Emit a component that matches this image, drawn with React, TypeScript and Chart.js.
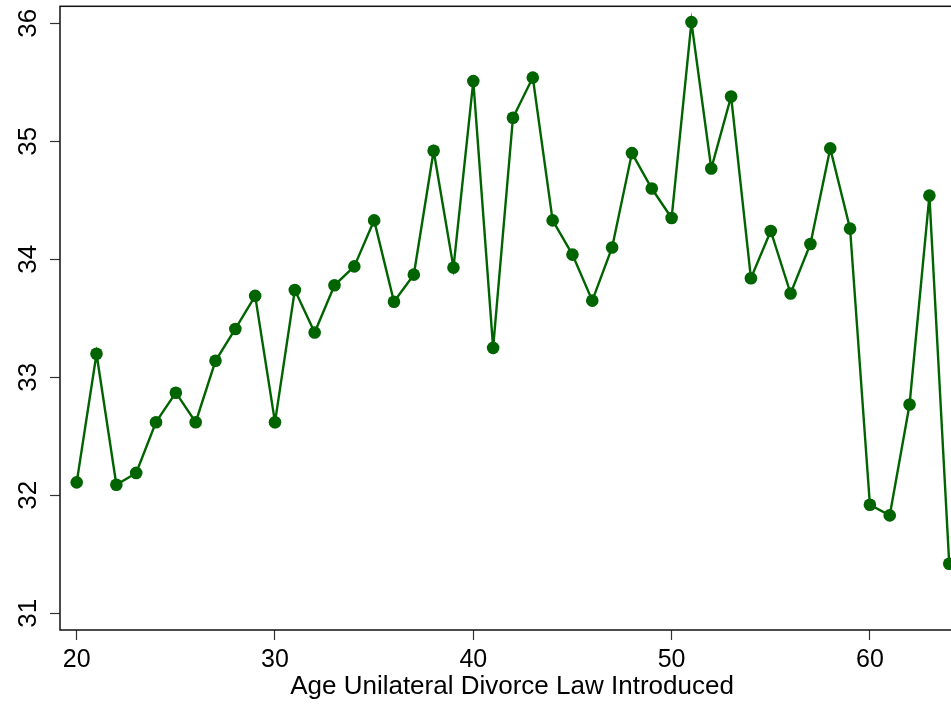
import React, { useEffect, useRef } from "react";
import { Chart, registerables } from "chart.js";

Chart.register(...registerables);

const ages = [20, 21, 22, 23, 24, 25, 26, 27, 28, 29, 30, 31, 32, 33, 34, 35, 36, 37, 38, 39, 40, 41, 42, 43, 44, 45, 46, 47, 48, 49, 50, 51, 52, 53, 54, 55, 56, 57, 58, 59, 60, 61, 62, 63, 64];
const values = [32.11, 33.2, 32.09, 32.19, 32.62, 32.87, 32.62, 33.14, 33.41, 33.69, 32.62, 33.74, 33.38, 33.78, 33.94, 34.33, 33.64, 33.87, 34.92, 33.93, 35.51, 33.25, 35.2, 35.54, 34.33, 34.04, 33.65, 34.1, 34.9, 34.6, 34.35, 36.01, 34.77, 35.38, 33.84, 34.24, 33.71, 34.13, 34.94, 34.26, 31.92, 31.83, 32.77, 34.54, 31.42];
const xTickValues = [20, 30, 40, 50, 60];
const yTickValues = [31, 32, 33, 34, 35, 36];
const xTitle = "Age Unilateral Divorce Law Introduced";

const FONT = "'Liberation Sans', Arial, Helvetica, sans-serif";
const GREEN = "#006400";

const framePlugin = {
  id: "frame",
  beforeDatasetsDraw(chart: any) {
    const { ctx, chartArea } = chart;
    ctx.save();
    ctx.strokeStyle = "#111";
    ctx.lineWidth = 1.5;
    ctx.strokeRect(chartArea.left, chartArea.top, chartArea.right - chartArea.left, chartArea.bottom - chartArea.top);
    ctx.restore();
  },
};

export default function App() {
  const ref = useRef<HTMLCanvasElement>(null);
  useEffect(() => {
    if (!ref.current) return;
    const chart = new Chart(ref.current, {
      type: "line",
      data: {
        datasets: [
          {
            data: ages.map((a, i) => ({ x: a, y: values[i] })),
            borderColor: GREEN,
            backgroundColor: GREEN,
            pointBackgroundColor: GREEN,
            pointBorderWidth: 0,
            pointRadius: 6.3,
            borderWidth: 2.4,
            tension: 0,
          },
        ],
      },
      options: {
        animation: false,
        responsive: false,
        devicePixelRatio: 1,
        layout: { padding: { top: 6, left: 0, right: 11, bottom: 0 } },
        plugins: { legend: { display: false }, tooltip: { enabled: false } },
        scales: {
          x: {
            type: "linear",
            min: 19.158,
            max: 64.745,
            afterBuildTicks: (s: any) => {
              s.ticks = xTickValues.map((v) => ({ value: v }));
            },
            afterFit: (s: any) => {
              s.height = 75;
              s.paddingLeft = 0;
              s.paddingRight = 0;
            },
            border: { display: false },
            grid: { drawOnChartArea: false, drawTicks: true, tickLength: 10, tickColor: "#333", tickWidth: 1.2 },
            ticks: { color: "#000", padding: 5, maxRotation: 0, font: { family: FONT, size: 25 } },
            title: { display: true, text: xTitle, color: "#000", padding: { top: 0, bottom: 3 }, font: { family: FONT, size: 26 } },
          },
          y: {
            type: "linear",
            min: 30.859,
            max: 36.144,
            afterBuildTicks: (s: any) => {
              s.ticks = yTickValues.map((v) => ({ value: v }));
            },
            afterFit: (s: any) => {
              s.width = 60;
              s.paddingTop = 0;
              s.paddingBottom = 0;
            },
            border: { display: false },
            grid: { drawOnChartArea: false, drawTicks: true, tickLength: 10, tickColor: "#333", tickWidth: 1.2 },
            ticks: { color: "#000", padding: 7, minRotation: 90, maxRotation: 90, crossAlign: "center", font: { family: FONT, size: 26 } },
          },
        },
      },
      plugins: [framePlugin],
    });
    return () => chart.destroy();
  }, []);
  return (
    <div style={{ width: 975, height: 705 }}>
      <style>{"body{margin:0;overflow:hidden}"}</style>
      <canvas ref={ref} width={975} height={705} style={{ display: "block" }} />
    </div>
  );
}
